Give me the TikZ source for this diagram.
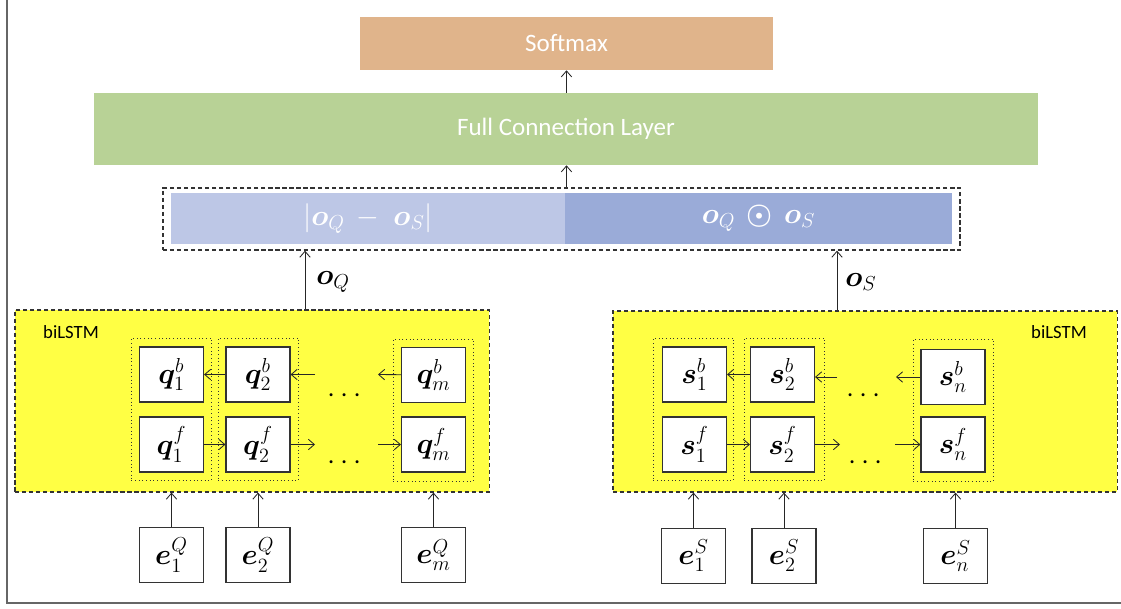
\documentclass[tikz,border=0pt]{standalone}
\usepackage{amsmath,amssymb}
\usepackage{bm}
\usepackage{fontspec}
\setmainfont{Carlito}
\usepackage{tikz}
\usetikzlibrary{arrows.meta}
\usepackage{xcolor}
\definecolor{softmaxfill}{HTML}{E0B48B}
\definecolor{fcfill}{HTML}{B8D296}
\definecolor{absfill}{HTML}{BDC7E6}
\definecolor{prodfill}{HTML}{9AABD8}
\definecolor{lstmfill}{HTML}{FFFF44}

\begin{document}
\begin{tikzpicture}[x=0.025cm,y=-0.025cm,>={Straight Barb[length=1.5mm,width=2.6mm]},line cap=butt,
  layer/.style={fill=#1,inner sep=0pt,text=white,font=\fontsize{17.8}{20}\selectfont},
  concatpart/.style={fill=#1,inner sep=0pt,minimum height=1.275cm,text=white,font=\fontsize{21}{24}\selectfont},
  dashbox/.style={draw=black!80,line width=0.9pt,dash pattern=on 3pt off 2pt,fill=white,inner sep=0pt},
  lstmbox/.style={draw=black!80,line width=0.8pt,dash pattern=on 3pt off 2pt,fill=lstmfill,inner sep=0pt},
  group/.style={draw=black!80,line width=0.6pt,dotted,minimum width=2cm,minimum height=3.55cm,inner sep=0pt},
  cell/.style={draw=black!80,line width=0.8pt,fill=white,minimum width=1.6cm,minimum height=1.375cm,inner sep=0pt,font=\fontsize{21.5}{24}\selectfont},
  mathlab/.style={inner sep=0pt,font=\fontsize{21.5}{24}\selectfont},
  lstmlab/.style={inner sep=0pt,font=\fontsize{13.3}{15}\selectfont},
  link/.style={->,line width=0.6pt,black!85}]
\useasboundingbox (0,0) rectangle (1121,608);
\draw[black!60,line width=1.3pt] (7,0) -- (7,603) -- (1121,603);

% top layers
\node[layer=softmaxfill,minimum width=10.325cm,minimum height=1.325cm] (softmax) at (566.5,43.5) {Softmax};
\node[layer=fcfill,minimum width=23.6cm,minimum height=1.8cm] (fc) at (566,129) {Full Connection Layer};
\node[dashbox,minimum width=19.925cm,minimum height=1.55cm] (concat) at (561.5,219) {};
\node[concatpart=absfill,minimum width=9.85cm] (absdiff) at (368,218.5) {$\lvert\bm{o}_Q\,-\;\bm{o}_S\rvert$};
\node[concatpart=prodfill,minimum width=9.675cm] (prod) at (758.5,218.5) {$\bm{o}_Q\,\bm{\odot}\,\bm{o}_S$};
\draw[link] (concat.north -| softmax.south) -- (fc.south -| softmax.south);
\draw[link] (fc.north -| softmax.south) -- (softmax.south);

% biLSTM blocks
\node[lstmbox,minimum width=11.85cm,minimum height=4.55cm] (qlstm) at (252,401) {};
\node[lstmlab] (qlab) at (71,332) {biLSTM};
\node[lstmbox,minimum width=12.6cm,minimum height=4.525cm] (slstm) at (865,401.5) {};
\node[lstmlab] (slab) at (1059,332) {biLSTM};

% outputs
\coordinate (oqx) at (305,280);
\coordinate (osx) at (837,280);
\draw[link] (qlstm.north -| oqx) -- (concat.south -| oqx);
\draw[link] (slstm.north -| osx) -- (concat.south -| osx);
\node[mathlab] (oqlab) at (333,282) {$\bm{o}_Q$};
\node[mathlab] (oslab) at (861,282) {$\bm{o}_S$};

% question side
\node[group] (q1g) at (171.5,409) {};
\node[group] (q2g) at (258.5,409) {};
\node[group] (qmg) at (433.5,410) {};
\node[cell] (q1b) at (171.5,374.5) {$\bm{q}_1^b$};
\node[cell] (q2b) at (258,374.5) {$\bm{q}_2^b$};
\node[cell] (qmb) at (433.5,375) {$\bm{q}_m^b$};
\node[cell] (q1f) at (171.5,444.5) {$\bm{q}_1^f$};
\node[cell] (q2f) at (258,444.5) {$\bm{q}_2^f$};
\node[cell] (qmf) at (433.5,444.5) {$\bm{q}_m^f$};
\node[mathlab] (qdotb) at (347,396) {$\cdots$};
\node[mathlab] (qdotf) at (347,463) {$\cdots$};
\coordinate (qbin) at (315,374.5);
\coordinate (qbout) at (378,374.5);
\coordinate (qfout) at (315,444.5);
\coordinate (qfin) at (378,444.5);
\draw[link] (q2b) -- (q1b);
\draw[link] (qbin) -- (q2b);
\draw[link] (qmb) -- (qbout);
\draw[link] (q1f) -- (q2f);
\draw[link] (q2f) -- (qfout);
\draw[link] (qfin) -- (qmf);

% sentence side
\node[group] (s1g) at (693.5,409) {};
\node[group] (s2g) at (784.5,409) {};
\node[group] (sng) at (953.5,410) {};
\node[cell] (s1b) at (694.5,374.5) {$\bm{s}_1^b$};
\node[cell] (s2b) at (782.5,374.5) {$\bm{s}_2^b$};
\node[cell] (snb) at (953,377) {$\bm{s}_n^b$};
\node[cell] (s1f) at (694.5,444.5) {$\bm{s}_1^f$};
\node[cell] (s2f) at (782.5,444.5) {$\bm{s}_2^f$};
\node[cell] (snf) at (953,444.5) {$\bm{s}_n^f$};
\node[mathlab] (sdotb) at (866,396) {$\cdots$};
\node[mathlab] (sdotf) at (868,463) {$\cdots$};
\coordinate (sbin) at (837,377);
\coordinate (sbout) at (896,377);
\coordinate (sfout) at (840,444.5);
\coordinate (sfin) at (895,444.5);
\draw[link] (s2b) -- (s1b);
\draw[link] (sbin) -- (s2b.east |- sbin);
\draw[link] (snb) -- (sbout);
\draw[link] (s1f) -- (s2f);
\draw[link] (s2f) -- (sfout);
\draw[link] (sfin) -- (snf);

% embeddings
\node[cell] (eq1) at (171.5,555) {$\bm{e}_1^Q$};
\node[cell] (eq2) at (258,555) {$\bm{e}_2^Q$};
\node[cell] (eqm) at (433.5,555) {$\bm{e}_m^Q$};
\node[cell] (es1) at (693.5,556) {$\bm{e}_1^S$};
\node[cell] (es2) at (784,556) {$\bm{e}_2^S$};
\node[cell] (esn) at (955.5,556) {$\bm{e}_n^S$};
\draw[link] (eq1) -- (eq1 |- qlstm.south);
\draw[link] (eq2) -- (eq2 |- qlstm.south);
\draw[link] (eqm) -- (eqm |- qlstm.south);
\draw[link] (es1) -- (es1 |- slstm.south);
\draw[link] (es2) -- (es2 |- slstm.south);
\draw[link] (esn) -- (esn |- slstm.south);
\end{tikzpicture}
\end{document}
